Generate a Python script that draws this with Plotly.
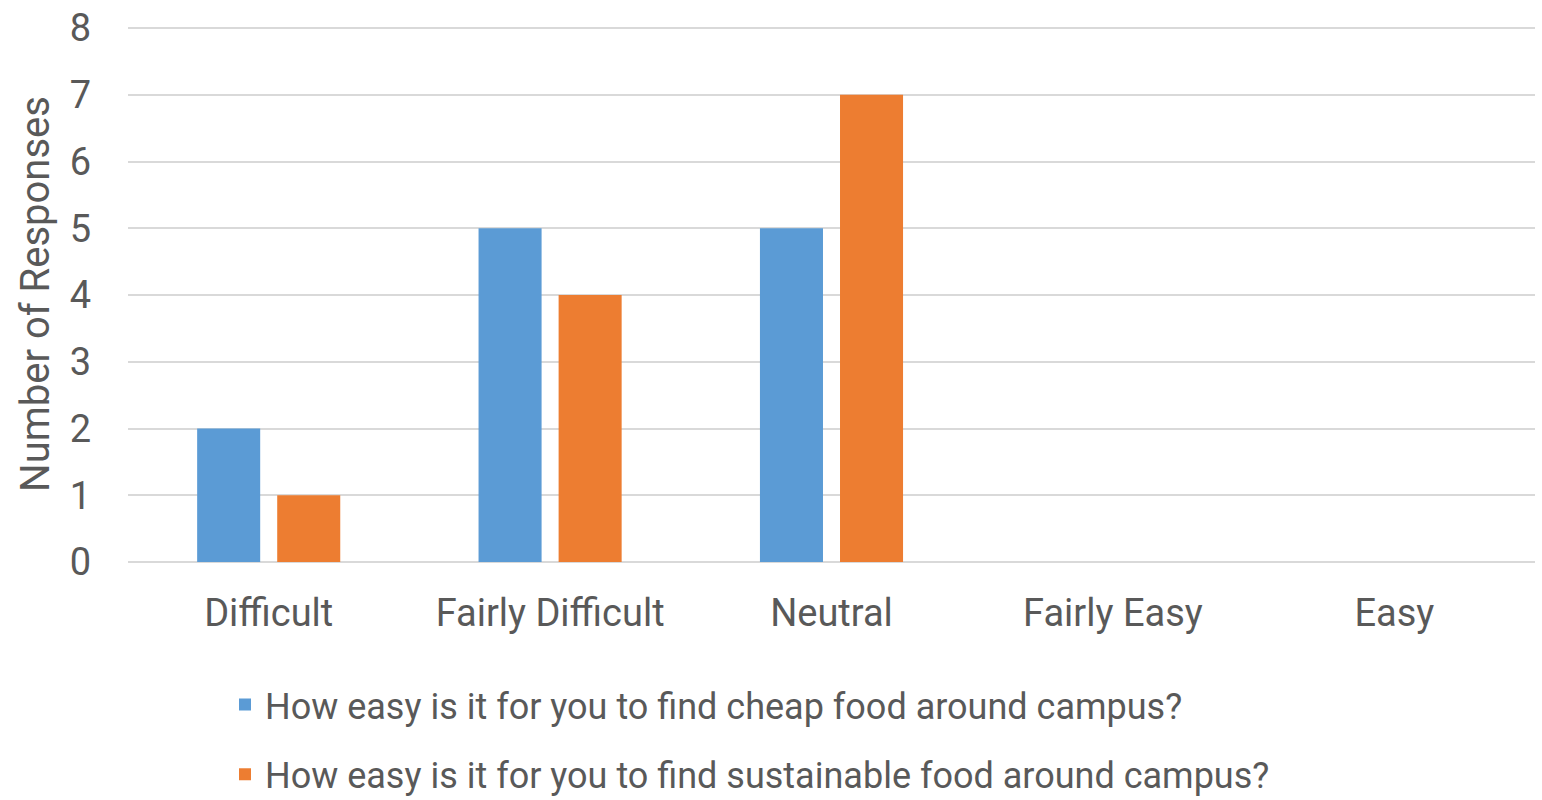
import plotly.graph_objects as go

categories = ["Difficult", "Fairly Difficult", "Neutral", "Fairly Easy", "Easy"]
cheap_food = [2, 5, 5, 0, 0]
sustainable_food = [1, 4, 7, 0, 0]
series_names = [
    "How easy is it for you to find cheap food around campus?",
    "How easy is it for you to find sustainable food around campus?",
]
y_ticks = [0, 1, 2, 3, 4, 5, 6, 7, 8]

FONT = "Roboto, Open Sans, sans-serif"
TEXT = "#595959"

fig = go.Figure()
fig.add_trace(go.Bar(x=categories, y=cheap_food, name=series_names[0],
                     marker=dict(color="#5B9BD5", line=dict(width=0)),
                     legendgroup="a"))
fig.add_trace(go.Bar(x=categories, y=sustainable_food, name=series_names[1],
                     marker=dict(color="#ED7D31", line=dict(width=0)),
                     legendgroup="b"))

fig.update_layout(
    width=1542, height=800,
    margin=dict(l=128, r=7, t=26, b=238, autoexpand=False),
    paper_bgcolor="white", plot_bgcolor="white",
    barmode="group", bargap=0.431, bargroupgap=0.2125,
    font=dict(family=FONT, color=TEXT, size=38),
    showlegend=True,
    legend=dict(orientation="v", x=(225 - 128) / 1407, xanchor="left",
                y=-0.21, yanchor="top", tracegroupgap=20,
                font=dict(size=36, color=TEXT, family=FONT),
                bgcolor="rgba(0,0,0,0)"),
    xaxis=dict(showgrid=False, showline=False, ticks="", zeroline=False,
               tickfont=dict(size=38, color=TEXT), ticklabelstandoff=25),
    yaxis=dict(range=[0, 8.03], tickvals=y_ticks, showgrid=True, gridcolor="#D9D9D9",
               gridwidth=2, zeroline=True, zerolinecolor="#D9D9D9", zerolinewidth=2,
               showline=False, ticks="", tickfont=dict(size=38, color=TEXT),
               ticklabelstandoff=36,
               title=dict(text="Number of Responses", font=dict(size=40, color=TEXT),
                          standoff=7)),
)

fig.write_html("out.html")
